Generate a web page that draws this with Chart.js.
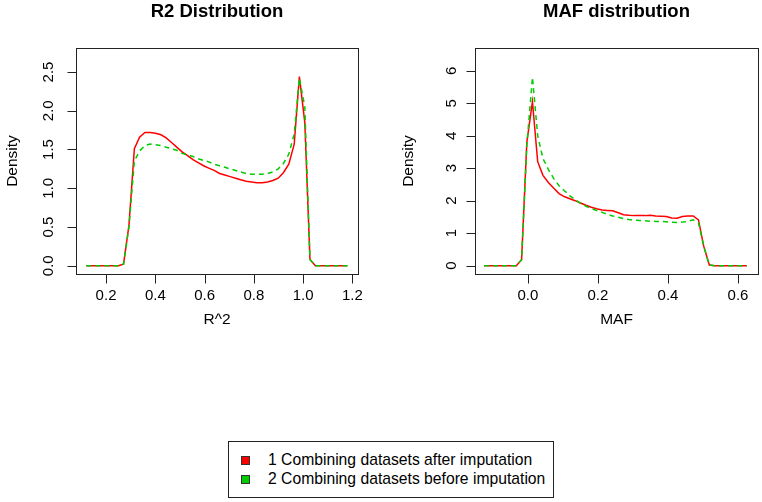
<!DOCTYPE html>
<html>
<head>
<meta charset="utf-8">
<script src="https://cdn.jsdelivr.net/npm/chart.js@4/dist/chart.umd.min.js"></script>
<style>
  html, body { margin: 0; padding: 0; background: #fff; }
  body { width: 762px; height: 502px; position: relative; overflow: hidden; font-family: "Liberation Sans", Arial, sans-serif; }
  canvas { position: absolute; top: 0; }
  #r2Chart { left: 0; }
  #mafChart { left: 381px; }
  .legend { position: absolute; left: 228px; top: 441px; width: 326px; height: 57px; border: 1px solid #222; box-sizing: border-box; font-size: 15.7px; color: #000; }
  .legend .row { position: absolute; left: 0; height: 18px; line-height: 18px; white-space: nowrap; }
  .legend .sw { position: absolute; left: 12px; top: 5px; width: 9px; height: 9px; border: 1px solid #333; box-sizing: border-box; }
  .legend .txt { position: absolute; left: 39px; top: 0; }
</style>
</head>
<body>
<canvas id="r2Chart" width="381" height="340"></canvas>
<canvas id="mafChart" width="381" height="340"></canvas>
<div class="legend" id="legend"></div>

<script>
/* DATA */
const seriesNames = ["1 Combining datasets after imputation", "2 Combining datasets before imputation"];
const seriesColors = ["#FF0000", "#00CD00"];

// R2 density
const r2X = [0.120, 0.142, 0.163, 0.185, 0.207, 0.228, 0.250, 0.271, 0.293, 0.315,
  0.336, 0.358, 0.379, 0.401, 0.423, 0.444, 0.466, 0.487, 0.509, 0.531,
  0.553, 0.574, 0.596, 0.617, 0.639, 0.661, 0.682, 0.704, 0.726, 0.747,
  0.769, 0.791, 0.812, 0.834, 0.856, 0.877, 0.899, 0.920, 0.942, 0.964,
  0.985, 1.007, 1.028, 1.050, 1.072, 1.093, 1.115, 1.137, 1.158, 1.180];
const r2After = [0, 0, 0, 0, 0, 0, 0, 0.02, 0.52, 1.51,
  1.66, 1.72, 1.72, 1.71, 1.69, 1.65, 1.59, 1.53, 1.47, 1.42,
  1.37, 1.33, 1.29, 1.26, 1.23, 1.19, 1.17, 1.15, 1.13, 1.11,
  1.09, 1.08, 1.07, 1.07, 1.08, 1.10, 1.13, 1.20, 1.31, 1.57,
  2.44, 1.85, 0.08, 0, 0, 0, 0, 0, 0, 0];
const r2Before = [0, 0, 0, 0, 0, 0, 0, 0.02, 0.50, 1.35,
  1.48, 1.55, 1.57, 1.56, 1.55, 1.53, 1.51, 1.49, 1.45, 1.43,
  1.41, 1.38, 1.36, 1.34, 1.31, 1.29, 1.27, 1.25, 1.23, 1.21,
  1.19, 1.18, 1.18, 1.18, 1.19, 1.21, 1.25, 1.32, 1.44, 1.70,
  2.42, 2.05, 0.08, 0, 0, 0, 0, 0, 0, 0];
const r2XTicks = [0.2, 0.4, 0.6, 0.8, 1.0, 1.2];
const r2YTicks = [0, 0.5, 1.0, 1.5, 2.0, 2.5];

// MAF density
const mafX = [-0.125, -0.110, -0.094, -0.079, -0.064, -0.049, -0.033, -0.018, -0.003, 0.013,
  0.028, 0.043, 0.059, 0.074, 0.089, 0.105, 0.120, 0.135, 0.150, 0.166,
  0.181, 0.196, 0.212, 0.227, 0.242, 0.258, 0.273, 0.288, 0.303, 0.319,
  0.334, 0.349, 0.365, 0.380, 0.395, 0.411, 0.426, 0.441, 0.456, 0.472,
  0.487, 0.502, 0.518, 0.533, 0.548, 0.564, 0.579, 0.594, 0.609, 0.625];
const mafAfter = [0, 0, 0, 0, 0, 0, 0, 0.18, 3.80, 5.05,
  3.20, 2.78, 2.55, 2.38, 2.22, 2.12, 2.06, 2.00, 1.93, 1.86,
  1.80, 1.75, 1.71, 1.70, 1.69, 1.63, 1.57, 1.55, 1.54, 1.54,
  1.54, 1.55, 1.53, 1.52, 1.51, 1.47, 1.46, 1.51, 1.53, 1.53,
  1.41, 0.60, 0.02, 0, 0, 0, 0, 0, 0, 0];
const mafBefore = [0, 0, 0, 0, 0, 0, 0, 0.18, 3.70, 5.80,
  4.00, 3.30, 2.95, 2.68, 2.46, 2.30, 2.15, 2.03, 1.92, 1.83,
  1.76, 1.70, 1.64, 1.58, 1.53, 1.49, 1.45, 1.42, 1.40, 1.39,
  1.38, 1.37, 1.36, 1.36, 1.35, 1.34, 1.33, 1.34, 1.36, 1.41,
  1.32, 0.60, 0.02, 0, 0, 0, 0, 0, 0, 0];
const mafXTicks = [0.0, 0.2, 0.4, 0.6];
const mafYTicks = [0, 1, 2, 3, 4, 5, 6];

/* HELPERS */
const FONT = '"Liberation Sans", Arial, sans-serif';
const pts = (xs, ys) => xs.map((x, i) => ({ x, y: ys[i] }));

// R style box, ticks and labels
const rAxes = {
  id: "rAxes",
  afterDraw(chart, args, o) {
    const { ctx, chartArea: a } = chart;
    const sx = chart.scales.x, sy = chart.scales.y;
    ctx.save();
    ctx.strokeStyle = "#222";
    ctx.lineWidth = 1;
    const L = Math.round(a.left) + 0.5, T = Math.round(a.top) + 0.5;
    const R = Math.round(a.right) + 0.5, B = Math.round(a.bottom) + 0.5;
    ctx.strokeRect(L, T, R - L, B - T);

    ctx.beginPath();
    sx.ticks.forEach((t) => {
      const px = Math.round(sx.getPixelForValue(t.value)) + 0.5;
      ctx.moveTo(px, B);
      ctx.lineTo(px, B + 9);
    });
    sy.ticks.forEach((t) => {
      const py = Math.round(sy.getPixelForValue(t.value)) + 0.5;
      ctx.moveTo(L, py);
      ctx.lineTo(L - 9, py);
    });
    ctx.stroke();

    ctx.fillStyle = "#000";
    ctx.font = "15px " + FONT;
    ctx.textAlign = "center";
    ctx.textBaseline = "middle";
    sx.ticks.forEach((t) => {
      ctx.fillText(t.value.toFixed(o.xDec), sx.getPixelForValue(t.value), o.xLabelY);
    });
    sy.ticks.forEach((t) => {
      ctx.save();
      ctx.translate(o.yLabelX, sy.getPixelForValue(t.value));
      ctx.rotate(-Math.PI / 2);
      ctx.fillText(t.value.toFixed(o.yDec), 0, 0);
      ctx.restore();
    });

    ctx.font = "15.5px " + FONT;
    ctx.fillText(o.xTitle, (a.left + a.right) / 2, o.xTitleY);
    ctx.save();
    ctx.translate(o.yTitleX, (a.top + a.bottom) / 2);
    ctx.rotate(-Math.PI / 2);
    ctx.fillText(o.yTitle, 0, 0);
    ctx.restore();
    ctx.restore();
  },
};

function makeChart(id, cfg) {
  return new Chart(document.getElementById(id), {
    type: "line",
    data: {
      datasets: [
        { label: seriesNames[0], data: pts(cfg.xs, cfg.after), borderColor: seriesColors[0], borderWidth: 1.5, order: 1 },
        { label: seriesNames[1], data: pts(cfg.xs, cfg.before), borderColor: seriesColors[1], borderWidth: 1.5, borderDash: [5, 4], order: 0 },
      ],
    },
    options: {
      responsive: false,
      animation: false,
      devicePixelRatio: 1,
      layout: { padding: { top: 0, left: 0, bottom: 0, right: cfg.padRight } },
      elements: { point: { radius: 0 }, line: { tension: 0, fill: false } },
      plugins: {
        legend: { display: false },
        tooltip: { enabled: false },
        title: {
          display: true,
          fullSize: false,
          text: cfg.title,
          color: "#000",
          font: { family: FONT, size: 18.5, weight: "bold" },
          padding: { top: 1, bottom: 24.8 },
        },
        rAxes: cfg.axes,
      },
      scales: {
        x: {
          type: "linear",
          bounds: "data",
          min: cfg.xMin,
          max: cfg.xMax,
          ticks: { display: false },
          grid: { display: false },
          border: { display: false },
          afterBuildTicks: (s) => { s.ticks = cfg.xTicks.map((v) => ({ value: v })); },
          afterFit: (s) => { s.height = 66; },
        },
        y: {
          type: "linear",
          bounds: "data",
          min: cfg.yMin,
          max: cfg.yMax,
          ticks: { display: false },
          grid: { display: false },
          border: { display: false },
          afterBuildTicks: (s) => { s.ticks = cfg.yTicks.map((v) => ({ value: v })); },
          afterFit: (s) => { s.width = cfg.yWidth; },
        },
      },
    },
    plugins: [rAxes],
  });
}

/* CHARTS */
makeChart("r2Chart", {
  title: "R2 Distribution",
  xs: r2X, after: r2After, before: r2Before,
  xTicks: r2XTicks, yTicks: r2YTicks,
  xMin: 0.078, xMax: 1.223,
  yMin: -0.107, yMax: 2.81,
  yWidth: 76, padRight: 23,
  axes: { xDec: 1, yDec: 1, xLabelY: 296, yLabelX: 48.5, xTitle: "R^2", xTitleY: 320, yTitle: "Density", yTitleX: 13 },
});

makeChart("mafChart", {
  title: "MAF distribution",
  xs: mafX, after: mafAfter, before: mafBefore,
  xTicks: mafXTicks, yTicks: mafYTicks,
  xMin: -0.151, xMax: 0.657,
  yMin: -0.257, yMax: 6.70,
  yWidth: 94, padRight: 4,
  axes: { xDec: 1, yDec: 0, xLabelY: 296, yLabelX: 71, xTitle: "MAF", xTitleY: 320, yTitle: "Density", yTitleX: 27.5 },
});

/* LEGEND */
document.getElementById("legend").innerHTML = seriesNames
  .map((n, i) => `
    <div class="row" style="top:${9 + i * 18.5}px">
      <span class="sw" style="background:${seriesColors[i]}"></span>
      <span class="txt">${n}</span>
    </div>`)
  .join("");
</script>
</body>
</html>
